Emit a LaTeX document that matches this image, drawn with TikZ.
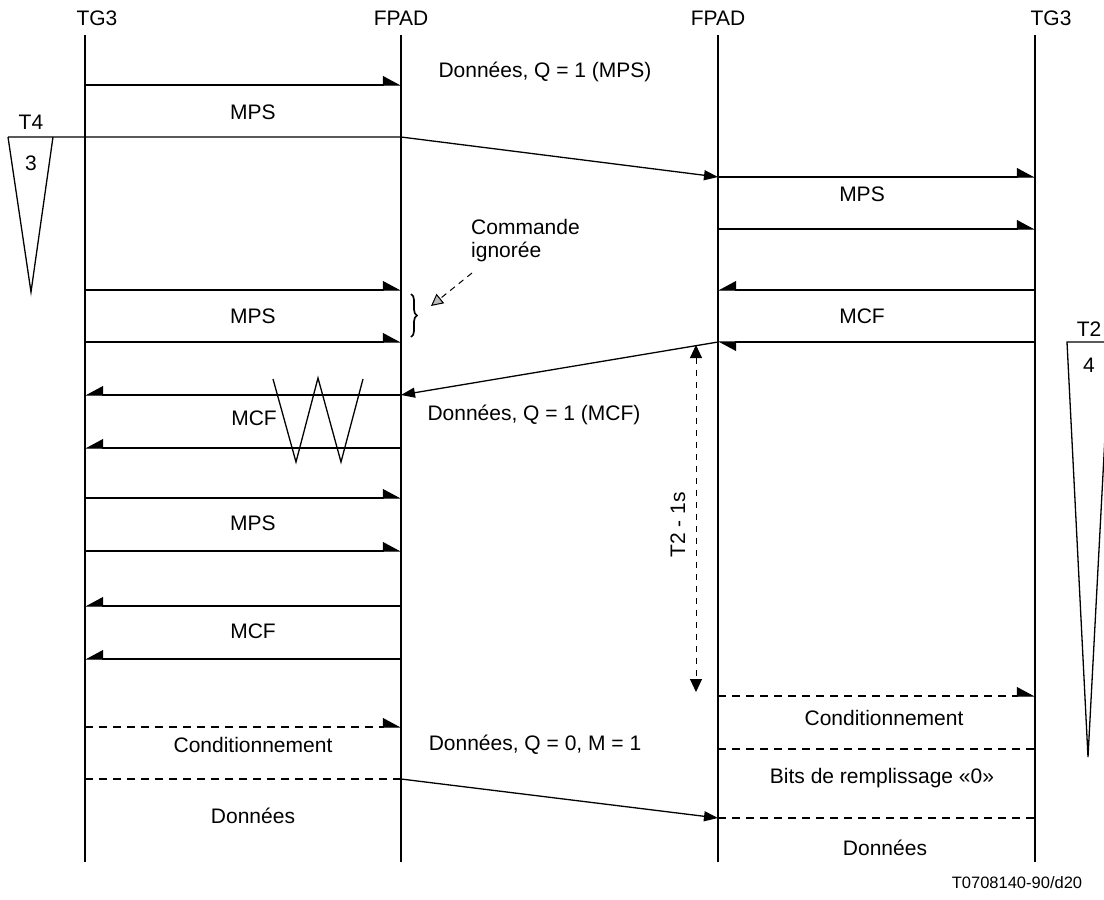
\documentclass[tikz,border=0pt]{standalone}
\usepackage{fontspec}
\setmainfont{Liberation Sans}
\usetikzlibrary{arrows.meta,decorations.pathreplacing}

\begin{document}
\begin{tikzpicture}[x=1pt,y=-1pt,
  every node/.style={font=\fontsize{21}{23}\selectfont, inner sep=0pt},
  life/.style={line width=1.8pt},
  msg/.style={line width=1.3pt},
  half/.style={msg,-{Triangle[harpoon,length=17pt,width=18pt]}},
  halfsw/.style={msg,-{Triangle[harpoon,swap,length=17pt,width=18pt]}},
  full/.style={msg,-{Triangle[length=14pt,width=10pt]}},
  dashmsg/.style={msg, dash pattern=on 8pt off 6pt},
  timer/.style={line width=1.3pt},
  small/.style={font=\fontsize{16.5}{19}\selectfont}]

\clip (0,0) rectangle (1104,900);
\useasboundingbox (0,0) rectangle (1104,900);

% lifeline headers
\node (hA) at (97,18) {TG3};
\node (hB) at (401,18) {FPAD};
\node (hC) at (718,18) {FPAD};
\node (hD) at (1051,18) {TG3};

% lifelines
\foreach \n/\x in {A/85,B/401,C/718,D/1035}{
  \coordinate (\n-top) at (\x,35);
  \coordinate (\n-bot) at (\x,862);
}
\foreach \n in {A,B,C,D}{\draw[life] (\n-top) -- (\n-bot);}

% message anchor points on the lifelines
\foreach \y in {85,137,290,342,395,448,498,551,606,659,727,779}{
  \coordinate (A\y) at (85,\y);
  \coordinate (B\y) at (401,\y);
}
\foreach \y in {177,229,290,342,696,749,818}{
  \coordinate (C\y) at (718,\y);
  \coordinate (D\y) at (1035,\y);
}

% T4 timer
\coordinate (t4l) at (8,137);
\coordinate (t4r) at (53,137);
\coordinate (t4tip) at (31,292);
\draw[timer] (t4r) -- (t4tip) -- (t4l);
\node (t4name) at (31,122) {T4};
\node (t4num) at (31,163) {3};

% T2 timer
\coordinate (t2l) at (1067,342);
\coordinate (t2r) at (1110,342);
\coordinate (t2tip) at (1088,757);
\draw[timer] (t2l) -- (t2r) -- (t2tip) -- cycle;
\node (t2name) at (1089,329) {T2};
\node (t2num) at (1089,365) {4};

% left exchange
\draw[half] (A85) -- (B85);
\draw[full] (t4l) -- (B137) -- (C177);
\node (mps1) at (253,112) {MPS};

\draw[half] (A290) -- (B290);
\draw[half] (A342) -- (B342);
\node (mps2) at (253,316) {MPS};

\draw[halfsw] (B395) -- (A395);
\draw[halfsw] (B448) -- (A448);
\node (mcf1) at (254,418) {MCF};
\draw[msg] (273,379) -- (296,462) -- (318,378) -- (341,462) -- (363,379);

\draw[half] (A498) -- (B498);
\draw[half] (A551) -- (B551);
\node (mps3) at (253,523) {MPS};

\draw[halfsw] (B606) -- (A606);
\draw[halfsw] (B659) -- (A659);
\node (mcf2) at (253,631) {MCF};

\draw[dashmsg,-{Triangle[harpoon,length=17pt,width=18pt]}] (A727) -- (B727);
\node (cond1) at (253,745) {Conditionnement};
\draw[dashmsg] (A779) -- (B779);
\draw[full] (B779) -- (C818);
\node (don1) at (253,816) {Données};

% middle labels
\node (q1mps) at (545,72) {Données, Q = 1 (MPS)};
\node (q1mcf) at (534,415) {Données, Q = 1 (MCF)};
\node (q0) at (535,745) {Données, Q = 0, M = 1};
\node[anchor=west, align=left] (cmd) at (471,241) {Commande\\ignorée};
\coordinate (cmdA) at (472,273);
\coordinate (cmdB) at (431,306);
\draw[line width=1pt, dash pattern=on 6pt off 5pt,
  -{Triangle[length=12pt,width=12pt,fill=gray!55]}] (cmdA) -- (cmdB);
\draw[decorate, decoration={brace, amplitude=6pt}, line width=1.7pt]
  (411,294) -- (411,337);

% right exchange
\draw[half] (C177) -- (D177);
\draw[half] (C229) -- (D229);
\node (mps4) at (862,194) {MPS};

\draw[halfsw] (D290) -- (C290);
\draw[half] (D342) -- (C342);
\node (mcf3) at (862,316) {MCF};
\draw[full] (C342) -- (B395);

% T2 - 1s interval
\coordinate (iv1) at (696,345);
\coordinate (iv2) at (696,692);
\draw[line width=1pt, dash pattern=on 6pt off 6pt,
  {Triangle[length=13pt,width=12pt]}-{Triangle[length=13pt,width=12pt]}] (iv1) -- (iv2);
\node[rotate=90] (ivlbl) at (678,525) {T2 - 1s};

\draw[dashmsg,-{Triangle[harpoon,length=17pt,width=18pt]}] (C696) -- (D696);
\node (cond2) at (884,718) {Conditionnement};
\draw[dashmsg] (C749) -- (D749);
\node (bits) at (882,778) {Bits de remplissage «0»};
\draw[dashmsg] (C818) -- (D818);
\node (don2) at (885,848) {Données};

\node[small] (ref) at (1017,883) {T0708140-90/d20};
\end{tikzpicture}
\end{document}
